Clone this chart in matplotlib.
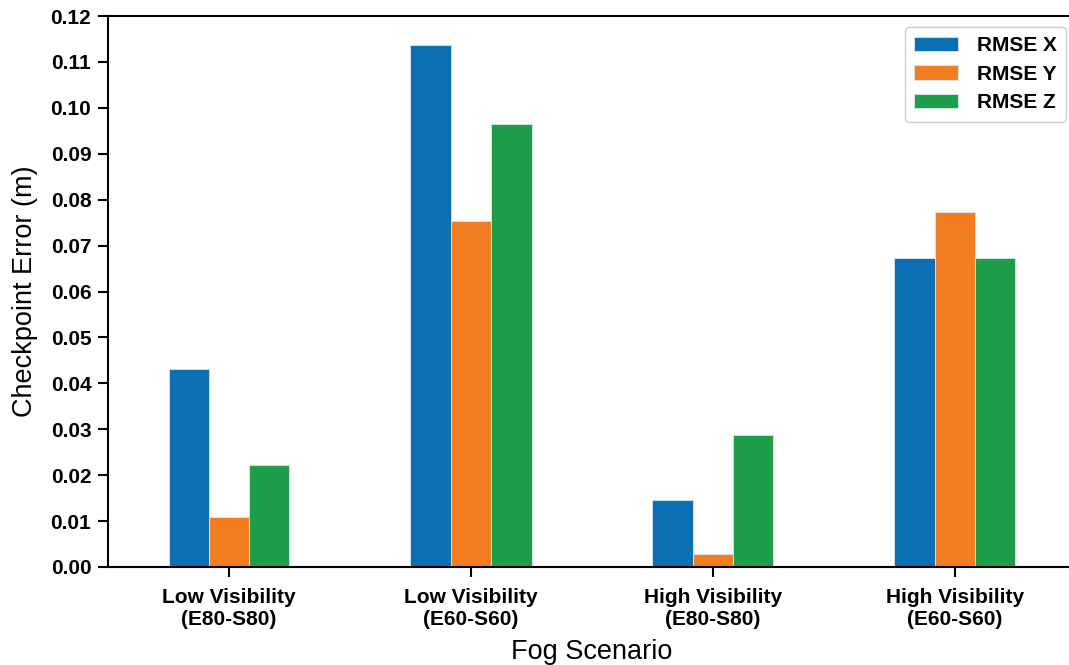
import matplotlib
matplotlib.use("Agg")
import matplotlib.pyplot as plt
import numpy as np

plt.rcParams['font.family'] = ['Liberation Sans', 'DejaVu Sans']

scenarios = ["Low Visibility\n(E80-S80)", "Low Visibility\n(E60-S60)",
             "High Visibility\n(E80-S80)", "High Visibility\n(E60-S60)"]
series_names = ["RMSE X", "RMSE Y", "RMSE Z"]
rmse_x = [0.0432, 0.1136, 0.0146, 0.0672]
rmse_y = [0.0109, 0.0753, 0.0028, 0.0773]
rmse_z = [0.0223, 0.0964, 0.0288, 0.0672]
colors = ["#0b6fb4", "#f37e21", "#1f9e4a"]
y_ticks = [0.00, 0.01, 0.02, 0.03, 0.04, 0.05, 0.06, 0.07, 0.08, 0.09, 0.10, 0.11, 0.12]

fig = plt.figure(figsize=(10.69, 6.65), dpi=100)
W, H = 1069, 665
ax = fig.add_axes([108 / W, 1 - 567 / H, (1076 - 108) / W, (567 - 16) / H])

x = np.arange(len(scenarios))
width = 0.5 / 3
for i, (vals, name, c) in enumerate(zip([rmse_x, rmse_y, rmse_z], series_names, colors)):
    ax.bar(x + (i - 1) * width, vals, width, color=c, label=name,
           edgecolor="#dde8f0", linewidth=0.6)

ax.set_xlim(-0.5, 3.5)
ax.set_ylim(0, 0.12)
ax.set_yticks(y_ticks)
ax.set_yticklabels([f"{v:.2f}" for v in y_ticks], fontsize=15, fontweight="bold")
ax.set_xticks(x)
ax.set_xticklabels(scenarios, fontsize=15, fontweight="bold", rotation=0, linespacing=1.2)
ax.tick_params(axis="both", length=7, width=1.5, pad=5)
ax.tick_params(axis="x", pad=8)
for s in ax.spines.values():
    s.set_linewidth(1.5)

ax.set_xlabel("Fog Scenario", fontsize=19.5, labelpad=7)
ax.set_ylabel("Checkpoint Error (m)", fontsize=19.5, labelpad=9)

ax_w = 1076 - 108
ax_h = 567 - 16
leg = ax.legend(loc="upper right",
                bbox_to_anchor=((1066 - 108) / ax_w, 1 - 11 / ax_h),
                borderaxespad=0,
                prop={"size": 15, "weight": "bold"}, handlelength=2.1, handletextpad=0.9,
                borderpad=0.45, labelspacing=0.45, fancybox=True, framealpha=1,
                edgecolor="#d0d0d0")

fig.savefig("out.png", dpi=100)
